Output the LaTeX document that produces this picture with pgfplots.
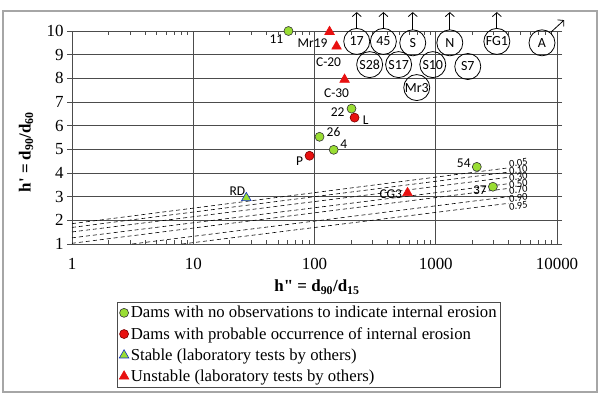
\documentclass[border=0pt]{standalone}
\usepackage{pgfplots}
\pgfplotsset{compat=1.18}
\usetikzlibrary{arrows.meta}
\usepackage{fontspec}
\setmainfont{Liberation Serif}
\newfontfamily\carlito{Carlito}
\definecolor{ptgreen}{HTML}{99DD33}
\definecolor{ptred}{HTML}{E81010}
\definecolor{darkred}{HTML}{7A0000}
\definecolor{triblue}{HTML}{1030C0}
\begin{document}
\begin{tikzpicture}[x=1bp,y=1bp]
\useasboundingbox (0,0) rectangle (601,402);
\draw[black!35, line width=1.6bp] (3,10) rectangle (597,391);
\begin{axis}[
  at={(72bp,158bp)}, anchor=south west,
  scale only axis, width=485bp, height=213bp,
  xmode=log, xmin=1, xmax=10000, ymin=1, ymax=10,
  xtick={1,10,100,1000,10000}, xticklabels={1,10,100,1000,10000},
  ytick={1,2,3,4,5,6,7,8,9,10},
  grid=major, major grid style={black!70, line width=0.6bp},
  axis line style={black!70, line width=0.6bp},
  xtick align=inside, ytick align=outside,
  tick style={black!70, line width=0.6bp},
  major tick length=5bp, minor tick length=4bp,
  tick label style={font=\fontsize{17}{17}\selectfont},
  xticklabel style={yshift=-11bp},
  /pgf/number format/assume math mode=true,
  clip=false,
  legend cell align=left,
  legend style={at={(0.0928,-0.2723)}, anchor=north west, draw=black!70, line width=0.6bp,
    font=\fontsize{16.8}{17}\selectfont, row sep=4bp, inner sep=2bp},
]
% dashed lines
\addplot[forget plot, black, dashed, line width=0.6bp, dash pattern=on 4bp off 3bp] coordinates {(1,1.86) (4000,4.22)};
\addplot[forget plot, black, dashed, line width=0.6bp, dash pattern=on 4bp off 3bp] coordinates {(1,1.70) (4000,4.04)};
\addplot[forget plot, black, dashed, line width=0.6bp, dash pattern=on 4bp off 3bp] coordinates {(1,1.51) (4000,3.82)};
\addplot[forget plot, black, dashed, line width=0.6bp, dash pattern=on 4bp off 3bp] coordinates {(1,1.26) (4000,3.55)};
\addplot[forget plot, black, dashed, line width=0.6bp, dash pattern=on 4bp off 3bp] coordinates {(1,1.03) (4000,3.35)};
\addplot[forget plot, black, dashed, line width=0.6bp, dash pattern=on 4bp off 3bp] coordinates {(3.14,1.0) (4000,3.00)};
\addplot[forget plot, black, dashed, line width=0.6bp, dash pattern=on 4bp off 3bp] coordinates {(8.1,1.0) (4000,2.72)};
% big open circles
\addplot[forget plot, only marks, mark=o, mark size=13bp, black, mark options={line width=0.8bp},
  nodes near coords, point meta=explicit symbolic,
  every node near coord/.append style={anchor=center, black, font=\carlito\fontsize{14}{14}\selectfont}]
  table[meta=lab] {
x y lab
223 9.56 17
370 9.56 45
646 9.50 S
1306 9.50 N
3190 9.56 FG1
7520 9.50 A
285 8.58 S28
494 8.58 S17
945 8.58 S10
1837 8.50 S7
697 7.61 Mr3
};
% data series
\addplot[only marks, mark=*, mark size=4.5bp, mark options={fill=ptgreen, draw=black!80, line width=0.6bp}]
  coordinates {(61,10) (202,6.72) (110,5.53) (144,4.98) (2180,4.26) (2960,3.42)};
\addlegendentry{Dams with no observations to indicate internal erosion}
\addplot[only marks, mark=*, mark size=4.5bp, mark options={fill=ptred, draw=darkred, line width=0.6bp}]
  coordinates {(214,6.34) (91,4.73)};
\addlegendentry{Dams with probable occurrence of internal erosion}
\addplot[only marks, mark=triangle*, mark size=5.5bp, mark options={fill=ptgreen, draw=triblue, line width=0.6bp}]
  coordinates {(27.4,2.95)};
\addlegendentry{Stable (laboratory tests by others)}
\addplot[only marks, mark=triangle*, mark size=5.5bp, mark options={fill=ptred, draw=ptred, line width=0.6bp}]
  coordinates {(133,9.97) (152,9.35) (177,7.95) (585,3.16)};
\addlegendentry{Unstable (laboratory tests by others)}
% arrows
\draw[line width=0.8bp, -{Straight Barb[length=4bp, width=9bp]}] (axis cs:223,10.11) -- (axis cs:223,10.8);
\draw[line width=0.8bp, -{Straight Barb[length=4bp, width=9bp]}] (axis cs:370,10.11) -- (axis cs:370,10.8);
\draw[line width=0.8bp, -{Straight Barb[length=4bp, width=9bp]}] (axis cs:646,10.05) -- (axis cs:646,10.8);
\draw[line width=0.8bp, -{Straight Barb[length=4bp, width=9bp]}] (axis cs:1306,10.05) -- (axis cs:1306,10.8);
\draw[line width=0.8bp, -{Straight Barb[length=4bp, width=9bp]}] (axis cs:3190,10.11) -- (axis cs:3190,10.8);
\draw[line width=0.8bp, -{Straight Barb[length=4bp, width=9bp]}] (axis cs:8914,9.95) -- (axis cs:11430,10.46);
% point labels
\begin{scope}[every node/.style={font=\carlito\fontsize{13.5}{14}\selectfont, inner sep=0pt}]
\node at (axis cs:48.5,9.66) {11};
\node at (axis cs:96.3,9.49) {Mr19};
\node at (axis cs:130.6,8.69) {C-20};
\node at (axis cs:152,7.38) {C-30};
\node at (axis cs:155,6.58) {22};
\node at (axis cs:264,6.24) {L};
\node at (axis cs:143.5,5.73) {26};
\node at (axis cs:174,5.23) {4};
\node at (axis cs:75.2,4.51) {P};
\node at (axis cs:425,3.11) {CG3};
\node at (axis cs:23.1,3.24) {RD};
\node at (axis cs:1703,4.42) {54};
\node at (axis cs:2311,3.28) {37};
\end{scope}
% dashed line labels
\begin{scope}[every node/.style={font=\carlito\fontsize{10.5}{11}\selectfont, inner sep=0pt, anchor=west, rotate=7}]
\node at (axis cs:4010,4.38) {0.05};
\node at (axis cs:4010,4.08) {0.10};
\node at (axis cs:4010,3.79) {0.30};
\node at (axis cs:4010,3.49) {0.50};
\node at (axis cs:4010,3.24) {0.70};
\node at (axis cs:4010,2.90) {0.90};
\node at (axis cs:4010,2.56) {0.95};
\end{scope}
\end{axis}
\node[font=\bfseries\fontsize{17}{17}\selectfont] at (317,115) {h\textquotedbl~=~d\textsubscript{90}/d\textsubscript{15}};
\node[font=\bfseries\fontsize{17}{17}\selectfont, rotate=90] at (26,250) {h\textquotesingle~=~d\textsubscript{90}/d\textsubscript{60}};
\end{tikzpicture}
\end{document}
